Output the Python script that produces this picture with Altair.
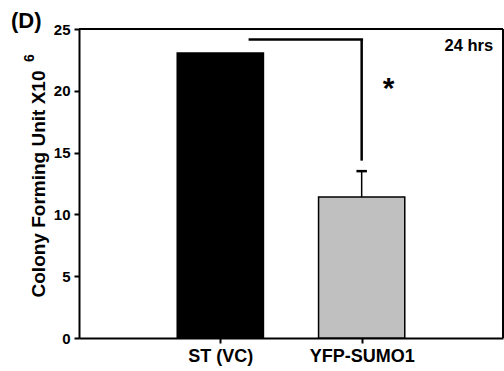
import altair as alt
import pandas as pd

categories = ["ST (VC)", "YFP-SUMO1"]
means = [23.05, 11.4]
errors = [0.0, 2.1]
colors = ["#000000", "#C0C0C0"]

# significance bracket (in data units)
bracket_y = 24.15
bracket_x_start = 1.2
bracket_y_end = 14.35

positions = [i + 1 for i in range(len(categories))]
half = 0.305
x_domain = [0, 3]
y_domain = [0, 25]

bars = pd.DataFrame({
    "cat": categories,
    "pos": positions,
    "x0": [p - half for p in positions],
    "x1": [p + half for p in positions],
    "mean": means,
    "top": [m + e for m, e in zip(means, errors)],
    "color": colors,
})

label_expr = " : ".join(
    [f"datum.value == {p} ? '{c}'" for p, c in zip(positions, categories)] + ["''"]
)

FONT = "Liberation Sans"
xscale = alt.Scale(domain=x_domain, nice=False, zero=False)
yscale = alt.Scale(domain=y_domain, nice=False)

xaxis = alt.Axis(values=positions, labelExpr=label_expr, title=None, grid=False,
                 domain=True, domainColor="black", domainWidth=2,
                 tickColor="black", tickWidth=2, tickSize=5,
                 labelFont=FONT, labelFontWeight="bold", labelFontSize=18,
                 labelColor="black", labelPadding=4)
yaxis = alt.Axis(values=[0, 5, 10, 15, 20, 25], title="Colony Forming Unit X10",
                 grid=False, domain=True, domainColor="black", domainWidth=2,
                 tickColor="black", tickWidth=2, tickSize=5,
                 labelFont=FONT, labelFontWeight="bold", labelFontSize=15,
                 labelColor="black", labelPadding=4,
                 titleFont=FONT, titleFontWeight="bold", titleFontSize=19,
                 titleColor="black", titlePadding=5)

base = alt.Chart(bars)

bar = base.mark_rect(stroke="black", strokeWidth=1.5).encode(
    x=alt.X("x0:Q", scale=xscale, axis=xaxis),
    x2="x1:Q",
    y=alt.Y("mean:Q", scale=yscale, axis=yaxis),
    y2=alt.datum(0),
    fill=alt.Fill("color:N", scale=None),
)

err = alt.Chart(bars[bars["top"] > bars["mean"]]).mark_rule(color="black", strokeWidth=1.5).encode(
    x=alt.X("pos:Q", scale=xscale),
    y=alt.Y("mean:Q", scale=yscale),
    y2="top:Q",
)
cap = alt.Chart(bars[bars["top"] > bars["mean"]]).transform_calculate(
    c0="datum.pos - 0.037", c1="datum.pos + 0.037"
).mark_rule(color="black", strokeWidth=2.5).encode(
    x=alt.X("c0:Q", scale=xscale),
    x2="c1:Q",
    y=alt.Y("top:Q", scale=yscale),
)

bracket_df = pd.DataFrame({
    "x0": [bracket_x_start, positions[1]],
    "x1": [positions[1] + 0.01, positions[1]],
    "y0": [bracket_y, bracket_y],
    "y1": [bracket_y, bracket_y_end],
})
bracket = alt.Chart(bracket_df).mark_rule(color="black", strokeWidth=2.5).encode(
    x=alt.X("x0:Q", scale=xscale), x2="x1:Q",
    y=alt.Y("y0:Q", scale=yscale), y2="y1:Q",
)

# top and right frame lines
frame_df = pd.DataFrame({
    "x0": [x_domain[0], x_domain[1]],
    "x1": [x_domain[1], x_domain[1]],
    "y0": [y_domain[1], y_domain[0]],
    "y1": [y_domain[1], y_domain[1]],
})
frame = alt.Chart(frame_df).mark_rule(color="black", strokeWidth=2).encode(
    x=alt.X("x0:Q", scale=xscale), x2="x1:Q",
    y=alt.Y("y0:Q", scale=yscale), y2="y1:Q",
)

annot_df = pd.DataFrame({"x": [2.19], "y": [20.15], "t": ["*"]})
star = alt.Chart(annot_df).mark_text(font=FONT, fontWeight="bold",
                                     fontSize=30, color="black", baseline="middle").encode(
    x=alt.X("x:Q", scale=xscale), y=alt.Y("y:Q", scale=yscale), text="t:N")

hrs_df = pd.DataFrame({"x": [2.93], "y": [23.6], "t": ["24 hrs"]})
hrs = alt.Chart(hrs_df).mark_text(font=FONT, fontWeight="bold",
                                  fontSize=16.5, color="black", align="right",
                                  baseline="middle").encode(
    x=alt.X("x:Q", scale=xscale), y=alt.Y("y:Q", scale=yscale), text="t:N")

panel = alt.Chart(pd.DataFrame({"t": ["(D)"]})).mark_text(
    font=FONT, fontWeight="bold", fontSize=22, color="black",
    align="left", baseline="middle").encode(
    x=alt.value(-68), y=alt.value(-8), text="t:N")

sup = alt.Chart(pd.DataFrame({"t": ["6"]})).mark_text(
    font=FONT, fontWeight="bold", fontSize=14, color="black",
    align="center", baseline="middle", angle=270).encode(
    x=alt.value(-49), y=alt.value(29), text="t:N")

chart = alt.layer(bar, err, cap, bracket, frame, star, hrs, panel, sup).properties(
    width=424, height=309,
    background="white",
    autosize=alt.AutoSizeParams(type="none"),
    padding={"left": 79, "top": 29, "right": 1, "bottom": 33},
).configure_view(stroke=None)

chart.save("out.html", embed_options={"renderer": "svg", "actions": False})
